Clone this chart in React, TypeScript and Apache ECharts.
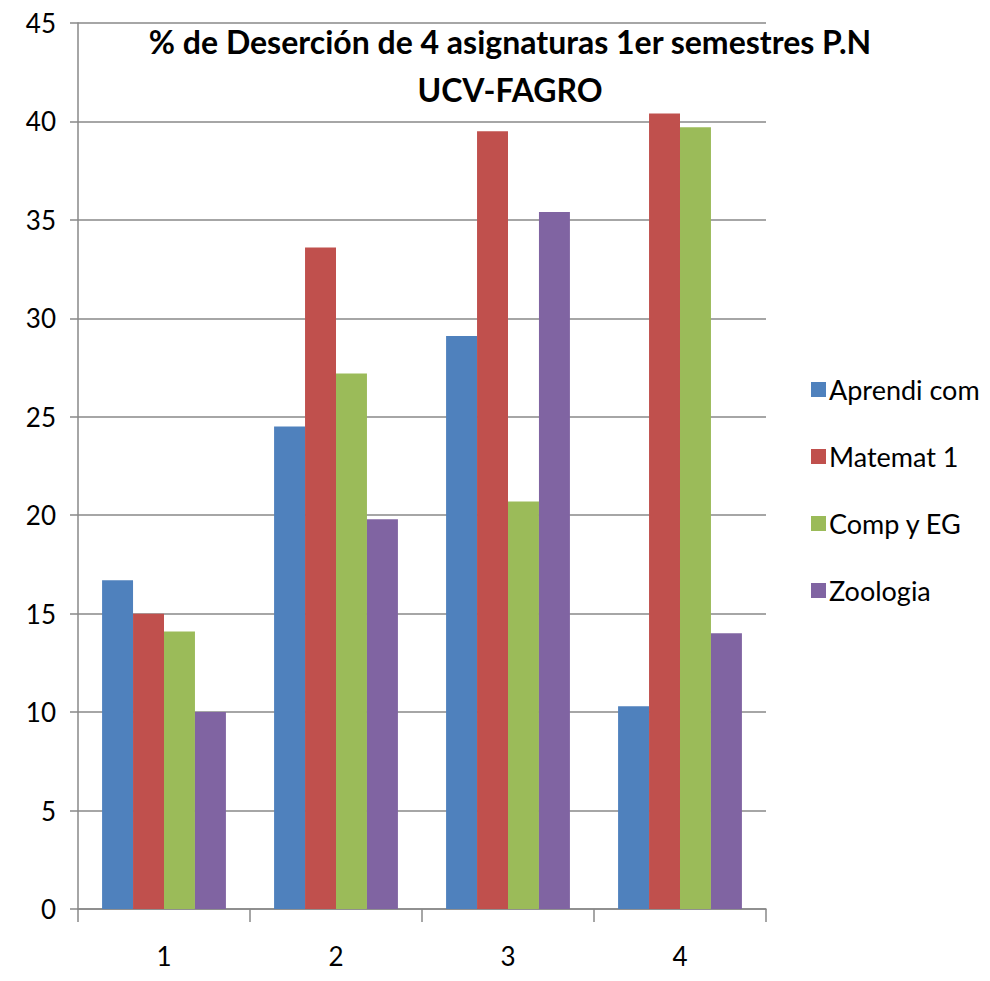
import React, { useEffect, useRef } from "react";
import * as echarts from "echarts";

const categories = ["1", "2", "3", "4"];
const seriesNames = ["Aprendi com", "Matemat 1", "Comp y EG", "Zoologia"];
const aprendiCom = [16.7, 24.5, 29.1, 10.3];
const matemat1 = [15.0, 33.6, 39.5, 40.4];
const compYEG = [14.1, 27.2, 20.7, 39.7];
const zoologia = [10.0, 19.8, 35.4, 14.0];
const colors = ["#4F81BD", "#C0504D", "#9BBB59", "#8064A2"];
const titleText = "% de Deserción de 4 asignaturas 1er semestres P.N\nUCV-FAGRO";

const FONT = "Lato, 'Open Sans', sans-serif";

export default function App() {
  const ref = useRef<HTMLDivElement>(null);
  useEffect(() => {
    if (!ref.current) return;
    const chart = echarts.init(ref.current, null, { renderer: "svg" });
    const data = [aprendiCom, matemat1, compYEG, zoologia];
    chart.setOption({
      animation: false,
      backgroundColor: "#ffffff",
      title: {
        text: titleText,
        left: 505,
        top: 12,
        textAlign: "center",
        textStyle: {
          fontFamily: FONT,
          fontSize: 32,
          fontWeight: "bold",
          color: "#000",
          lineHeight: 48,
        },
      },
      legend: {
        orient: "vertical",
        left: 806,
        top: 371,
        itemWidth: 15,
        itemHeight: 15,
        itemGap: 40,
        icon: "rect",
        data: seriesNames,
        textStyle: { fontFamily: FONT, fontSize: 27, color: "#000", lineHeight: 24, padding: [0, 0, 0, -2] },
      },
      grid: { left: 78, right: 224, top: 23, bottom: 72, containLabel: false },
      xAxis: {
        type: "category",
        data: categories,
        axisLine: { show: true, lineStyle: { color: "#888", width: 1.5 } },
        axisTick: { show: true, length: 13, lineStyle: { color: "#888", width: 1.5 } },
        axisLabel: { fontFamily: FONT, fontSize: 26, color: "#000", margin: 34 },
      },
      yAxis: {
        type: "value",
        min: 0,
        max: 45,
        interval: 5,
        axisLine: { show: true, lineStyle: { color: "#888", width: 1.5 } },
        axisTick: { show: true, length: 8, lineStyle: { color: "#888", width: 1.5 } },
        axisLabel: { fontFamily: FONT, fontSize: 26, color: "#000", margin: 22 },
        splitLine: { show: true, lineStyle: { color: "#888", width: 1.5 } },
      },
      series: seriesNames.map((name, i) => ({
        name,
        type: "bar",
        data: data[i],
        barGap: "0%",
        barCategoryGap: "28%",
        itemStyle: { color: colors[i] },
      })),
    });
    return () => chart.dispose();
  }, []);
  return (
    <div
      ref={ref}
      style={{ position: "fixed", left: 0, top: 0, width: 990, height: 981 }}
    />
  );
}
